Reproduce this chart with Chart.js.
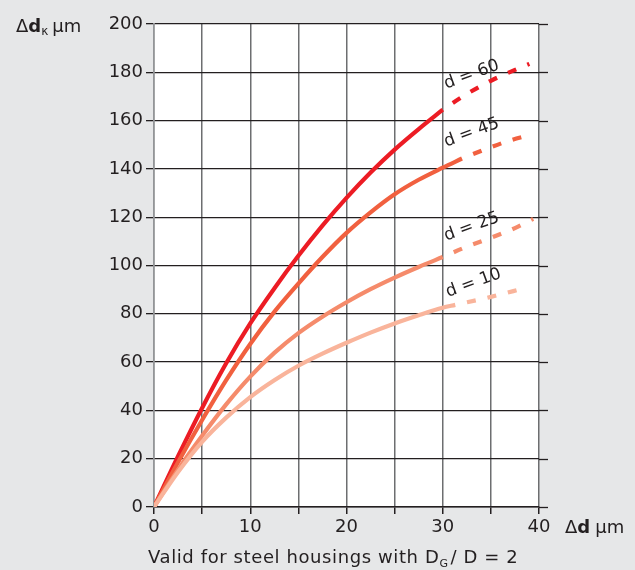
<!DOCTYPE html>
<html>
<head>
<meta charset="utf-8">
<script src="https://cdn.jsdelivr.net/npm/chart.js@4"></script>
<style>
  html, body { margin: 0; padding: 0; background: #e6e7e8; }
  canvas { display: block; }
</style>
</head>
<body>
<canvas id="c" width="635" height="570"></canvas>
<script>
// ── Data ──
const SERIES = ['d = 60', 'd = 45', 'd = 25', 'd = 10'];

const X60_SOLID = [0, 2.5, 5, 7.5, 10, 12.5, 15, 17.5, 20, 22.5, 25, 27.5, 30];
const Y60_SOLID = [0, 21, 41, 59.5, 76, 90.5, 104, 116.5, 128, 138.5, 148, 156.5, 164.5];
const X60_DASH  = [30, 32.5, 35, 37.5, 39];
const Y60_DASH  = [164.5, 171, 176.5, 181, 183.5];

const X45_SOLID = [0, 2.5, 5, 7.5, 10, 12.5, 15, 17.5, 20, 22.5, 25, 27.5, 30, 32];
const Y45_SOLID = [0, 18.5, 36, 52.5, 67.5, 80.8, 92.5, 103.5, 113.5, 122, 129.5, 135.5, 140.5, 144.3];
const X45_DASH  = [32, 35, 37, 39];
const Y45_DASH  = [144.3, 149, 151.8, 154];

const X25_SOLID = [0, 2.5, 5, 7.5, 10, 12.5, 15, 17.5, 20, 22.5, 25, 27.5, 30];
const Y25_SOLID = [0, 15.5, 29.5, 42.5, 54, 63.8, 72, 78.8, 84.8, 90.2, 95, 99.4, 103.5];
const X25_DASH  = [30, 32.5, 35, 37.5, 39.4];
const Y25_DASH  = [103.5, 107.8, 111.5, 115.5, 119.3];

const X10_SOLID = [0, 2.5, 5, 7.5, 10, 12.5, 15, 17.5, 20, 22.5, 25, 27.5, 30, 31.3];
const Y10_SOLID = [0, 14.5, 27, 37, 45.5, 52.5, 58.5, 63.5, 68, 72.2, 76, 79.4, 82.5, 83.7];
const X10_DASH  = [31.3, 35, 38.5];
const Y10_DASH  = [83.7, 87, 90.6];

const X_TICKS = [0, 5, 10, 15, 20, 25, 30, 35, 40];
const Y_TICKS = [0, 20, 40, 60, 80, 100, 120, 140, 160, 180, 200];

// curve label anchors, data units
const LABEL_X = [33, 33, 33, 33.2];
const LABEL_Y = [179, 155, 116, 92.7];

const COLORS = ['#ec1c24', '#f1603f', '#f58b6b', '#f9b49b'];
const FONT   = '"DejaVu Sans", Verdana, sans-serif';
const TXT    = '#231f20';

const pts = (xs, ys) => xs.map((x, i) => ({ x, y: ys[i] }));
const solid = [
  pts(X60_SOLID, Y60_SOLID), pts(X45_SOLID, Y45_SOLID),
  pts(X25_SOLID, Y25_SOLID), pts(X10_SOLID, Y10_SOLID),
];
const dashed = [
  pts(X60_DASH, Y60_DASH), pts(X45_DASH, Y45_DASH),
  pts(X25_DASH, Y25_DASH), pts(X10_DASH, Y10_DASH),
];

const datasets = [];
for (let i = SERIES.length - 1; i >= 0; i--) {
  datasets.push({
    label: SERIES[i], data: solid[i], borderColor: COLORS[i],
    borderWidth: 4.2, pointRadius: 0, cubicInterpolationMode: 'monotone',
  });
  datasets.push({
    label: SERIES[i] + ' ext', data: dashed[i], borderColor: COLORS[i],
    borderWidth: 4.2, borderDash: [9, 12], borderDashOffset: 9, pointRadius: 0,
    cubicInterpolationMode: 'monotone',
  });
}

// ── background, plot fill, extra text ──
const decor = {
  id: 'decor',
  beforeDraw(chart) {
    const { ctx, chartArea: a } = chart;
    ctx.save();
    ctx.fillStyle = '#e6e7e8';
    ctx.fillRect(0, 0, chart.width, chart.height);
    ctx.fillStyle = '#ffffff';
    ctx.fillRect(a.left, a.top, a.right - a.left, a.bottom - a.top);
    ctx.restore();
  },
  afterDraw(chart) {
    const { ctx, chartArea: a, scales } = chart;
    ctx.save();

    // horizontal grid lines run a little past the right edge
    ctx.strokeStyle = '#231f20';
    ctx.lineWidth = 1.3;
    Y_TICKS.forEach(v => {
      const y = Math.round(scales.y.getPixelForValue(v)) + 0.5;
      ctx.beginPath();
      ctx.moveTo(a.right, y);
      ctx.lineTo(a.right + 9, y);
      ctx.stroke();
    });

    ctx.fillStyle = TXT;
    ctx.textBaseline = 'alphabetic';
    ctx.textAlign = 'left';

    // y title: Δdκ μm
    let x = 16;
    const yb = 32;
    ctx.font = `18px ${FONT}`;
    ctx.fillText('Δ', x, yb); x += ctx.measureText('Δ').width;
    ctx.font = `bold 18px ${FONT}`;
    ctx.fillText('d', x, yb); x += ctx.measureText('d').width;
    ctx.font = `12px ${FONT}`;
    ctx.fillText('κ', x, yb + 3); x += ctx.measureText('κ').width + 4;
    ctx.font = `18px ${FONT}`;
    ctx.fillText('μm', x, yb);

    // x title: Δd μm
    x = 565;
    const xb = 533;
    ctx.fillText('Δ', x, xb); x += ctx.measureText('Δ').width;
    ctx.font = `bold 18px ${FONT}`;
    ctx.fillText('d', x, xb); x += ctx.measureText('d').width + 5;
    ctx.font = `18px ${FONT}`;
    ctx.fillText('μm', x, xb);

    // footnote
    x = 148;
    const fb = 563;
    ctx.letterSpacing = '0.6px';
    ctx.font = `18px ${FONT}`;
    const part1 = 'Valid for steel housings with D';
    ctx.fillText(part1, x, fb); x += ctx.measureText(part1).width;
    ctx.font = `11px ${FONT}`;
    ctx.fillText('G', x, fb + 4); x += ctx.measureText('G').width + 2;
    ctx.font = `18px ${FONT}`;
    ctx.fillText('/ D = 2', x, fb);
    ctx.letterSpacing = '0px';

    // curve labels
    ctx.font = `17px ${FONT}`;
    ctx.textAlign = 'center';
    ctx.textBaseline = 'middle';
    SERIES.forEach((s, i) => {
      const px = scales.x.getPixelForValue(LABEL_X[i]);
      const py = scales.y.getPixelForValue(LABEL_Y[i]);
      ctx.save();
      ctx.translate(px, py);
      ctx.rotate(-20 * Math.PI / 180);
      ctx.fillText(s, 0, 0);
      ctx.restore();
    });
    ctx.restore();
  },
};

new Chart(document.getElementById('c'), {
  type: 'line',
  data: { datasets },
  plugins: [decor],
  options: {
    responsive: false, animation: false, devicePixelRatio: 1,
    layout: { padding: { top: 24, right: 96, left: 0, bottom: 0 } },
    plugins: { legend: { display: false }, tooltip: { enabled: false } },
    scales: {
      x: {
        type: 'linear', min: 0, max: 40,
        afterBuildTicks: s => { s.ticks = X_TICKS.map(v => ({ value: v })); },
        afterFit: s => { s.height = 63; },
        ticks: {
          color: TXT, padding: 3, maxRotation: 0, autoSkip: false,
          font: { family: FONT, size: 18 },
          callback: v => (v % 10 === 0 ? v : ''),
        },
        grid: { color: '#6d6e70', lineWidth: 1.5, tickLength: 7, tickColor: '#231f20' },
        border: { color: '#231f20', width: 1.5 },
      },
      y: {
        min: 0, max: 200,
        afterBuildTicks: s => { s.ticks = Y_TICKS.map(v => ({ value: v })); },
        afterFit: s => { s.width = 154; },
        ticks: {
          color: TXT, padding: 3,
          font: { family: FONT, size: 18 },
        },
        grid: { color: '#231f20', lineWidth: 1.3, tickLength: 8, tickColor: '#231f20' },
        border: { color: '#939598', width: 1.5 },
      },
    },
  },
});
</script>
</body>
</html>
